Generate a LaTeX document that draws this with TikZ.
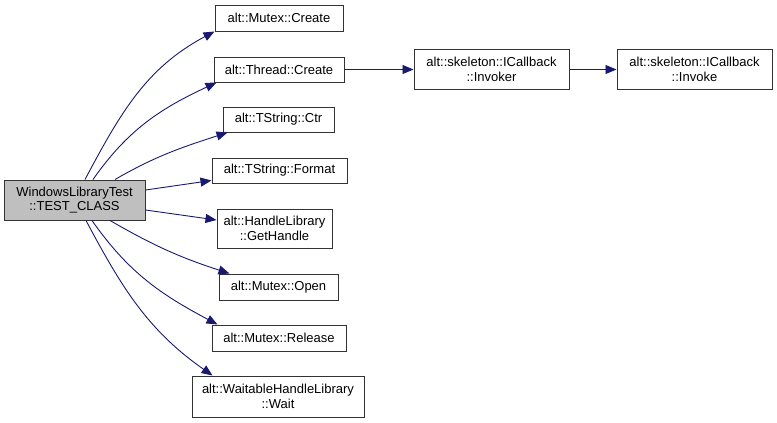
\documentclass[tikz,border=0pt]{standalone}
\usepackage{fontspec}
\setmainfont{Liberation Sans}
\usetikzlibrary{arrows.meta}
\definecolor{edgeblue}{HTML}{191970}
\definecolor{boxgray}{HTML}{BFBFBF}
\begin{document}
\begin{tikzpicture}[x=1pt,y=1pt,font=\fontsize{13}{14.5}\selectfont,
  fn/.style={draw=black!80,line width=1pt,fill=white,inner sep=0pt,align=center},
  call/.style={draw=edgeblue,line width=0.9pt,-{Triangle[length=11pt,width=9pt,fill=edgeblue]}}]
\useasboundingbox (0,0) rectangle (777,-423);
\node[fn,fill=boxgray,minimum width=141,minimum height=40](test) at (74.5,-200){WindowsLibraryTest\\::TEST\_CLASS};
\node[fn,minimum width=128,minimum height=26](mcreate) at (279,-18){alt::Mutex::Create};
\node[fn,minimum width=130,minimum height=25](tcreate) at (279,-69.5){alt::Thread::Create};
\node[fn,minimum width=155,minimum height=40](invoker) at (491.5,-69.5){alt::skeleton::ICallback\\::Invoker};
\node[fn,minimum width=155,minimum height=40](invoke) at (694.5,-69.5){alt::skeleton::ICallback\\::Invoke};
\node[fn,minimum width=111,minimum height=25](ctr) at (278.5,-119.5){alt::TString::Ctr};
\node[fn,minimum width=135,minimum height=25](format) at (279.5,-170.5){alt::TString::Format};
\node[fn,minimum width=115,minimum height=39](gethandle) at (274.5,-228.5){alt::HandleLibrary\\::GetHandle};
\node[fn,minimum width=119,minimum height=26](open) at (278.5,-287){alt::Mutex::Open};
\node[fn,minimum width=134,minimum height=26](release) at (279,-338){alt::Mutex::Release};
\node[fn,minimum width=172,minimum height=41](wait) at (278,-396.5){alt::WaitableHandleLibrary\\::Wait};
% calls from the test case
\draw[call]([xshift=10.5]test.north) to[out=62,in=208] (mcreate.south west);
\draw[call]([xshift=18.5]test.north) to[out=55,in=205] ([xshift=3]tcreate.south west);
\draw[call]([xshift=40.5]test.north) to[out=30,in=198] ([xshift=5]ctr.south west);
\draw[call]([yshift=10]test.east) -- ([yshift=-10]format.west);
\draw[call]([yshift=-10]test.east) -- ([yshift=8.5]gethandle.west);
\draw[call]([xshift=35.5]test.south) to[out=-30,in=162] ([xshift=11]open.north west);
\draw[call]([xshift=17.5]test.south) to[out=-55,in=152] ([xshift=6]release.north west);
\draw[call]([xshift=11.5]test.south) to[out=-62,in=145] ([xshift=21]wait.north west);
% thread chain
\draw[call](tcreate) -- (invoker);
\draw[call](invoker) -- (invoke);
\end{tikzpicture}
\end{document}
